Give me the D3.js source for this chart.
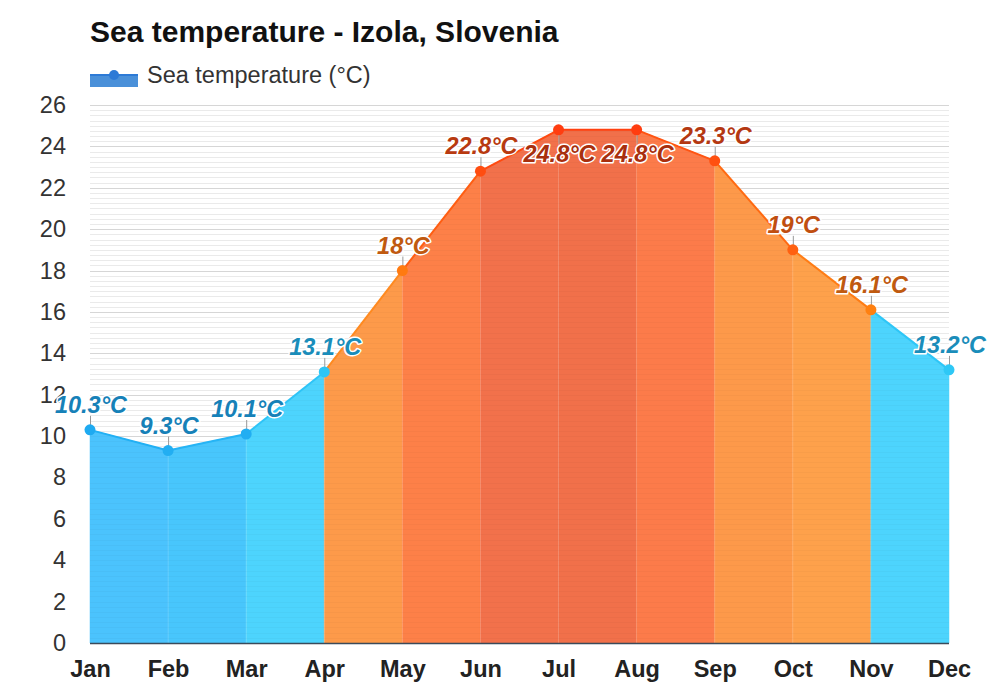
<!DOCTYPE html>
<html>
<head>
<meta charset="utf-8">
<script src="https://cdn.jsdelivr.net/npm/d3@7"></script>
<style>
  body { margin: 0; background: #fff; }
  svg { display: block; font-family: Arial, "Liberation Sans", sans-serif; }
</style>
</head>
<body>
<div id="chart"></div>
<script>
// month labels and sea temperatures
const months = ["Jan", "Feb", "Mar", "Apr", "May", "Jun", "Jul", "Aug", "Sep", "Oct", "Nov", "Dec"];
const seaTemp = [10.3, 9.3, 10.1, 13.1, 18, 22.8, 24.8, 24.8, 23.3, 19, 16.1, 13.2];
const yTicks = [0, 2, 4, 6, 8, 10, 12, 14, 16, 18, 20, 22, 24, 26];

// colours per segment (month i -> i+1), per point and per label
const fillColors = ["#4bc3fd", "#48c6fc", "#4dd4fd", "#fd9a4a", "#fd8048", "#f2714b", "#f1704a", "#fc7b4a", "#fd994a", "#fea14b", "#4dd4fd"];
const lineColors = ["#22b0f4", "#26b4f5", "#2ec4f7", "#ff8a20", "#ff5e12", "#ff4a10", "#ff4010", "#ff5412", "#ff6a12", "#ff7c14", "#2ec6f7"];
const pointColors = ["#1eaaf1", "#22aef2", "#22aef2", "#2ec5f5", "#ff7a10", "#ff4d10", "#ff3d10", "#ff3d10", "#ff5010", "#ff6010", "#ff8010", "#2ec8f6"];
const labelColors = ["#1681b8", "#1681b8", "#1681b8", "#1a8dba", "#c05a10", "#b83a10", "#a82f0e", "#a82f0e", "#b43812", "#c04e10", "#c05a10", "#1a8dba"];
const labelBelow = [false, false, false, false, false, false, true, true, false, false, false, false];

const width = 1000;
const height = 700;
const margin = { top: 105, right: 51, bottom: 57, left: 90 };
const innerWidth = width - margin.left - margin.right;
const innerHeight = height - margin.top - margin.bottom;

const svg = d3.select("#chart")
  .append("svg")
  .attr("width", width)
  .attr("height", height);

// title
svg.append("text")
  .attr("x", 90)
  .attr("y", 42)
  .style("font-size", "30px")
  .style("font-weight", "700")
  .style("fill", "#111")
  .text("Sea temperature - Izola, Slovenia");

// legend
const legend = svg.append("g").attr("transform", "translate(90,62)");
legend.append("rect").attr("x", 0).attr("y", 13).attr("width", 48).attr("height", 12).style("fill", "#4a90d9");
legend.append("line").attr("x1", 0).attr("x2", 48).attr("y1", 13).attr("y2", 13).style("stroke", "#2d7ad6").style("stroke-width", 2);
legend.append("circle").attr("cx", 24).attr("cy", 13).attr("r", 5).style("fill", "#2d7ad6");
legend.append("text")
  .attr("x", 57)
  .attr("y", 21)
  .style("font-size", "23.5px")
  .style("fill", "#333")
  .text("Sea temperature (°C)");

const g = svg.append("g").attr("transform", `translate(${margin.left},${margin.top})`);

const xScale = d3.scalePoint().domain(months).range([0, innerWidth]);
const yScale = d3.scaleLinear().domain([0, 26]).range([innerHeight, 0]);

// minor grid every 0.25
const minorTicks = d3.range(0, 26.01, 0.25).filter(v => v % 2 !== 0);
g.append("g")
  .selectAll("line")
  .data(minorTicks)
  .join("line")
  .attr("x1", 0)
  .attr("x2", innerWidth)
  .attr("y1", d => Math.round(yScale(d)) + 0.5)
  .attr("y2", d => Math.round(yScale(d)) + 0.5)
  .style("stroke", "#f0f0f0");

// major grid
g.append("g")
  .selectAll("line")
  .data(yTicks.slice(1))
  .join("line")
  .attr("x1", 0)
  .attr("x2", innerWidth)
  .attr("y1", d => Math.round(yScale(d)) + 0.5)
  .attr("y2", d => Math.round(yScale(d)) + 0.5)
  .style("stroke", "#dcdcdc");

// filled segments between consecutive months
const segments = d3.range(months.length - 1).map(i => ({
  i,
  a: { m: months[i], v: seaTemp[i] },
  b: { m: months[i + 1], v: seaTemp[i + 1] },
}));

const area = d3.area()
  .x(d => xScale(d.m))
  .y0(yScale(0))
  .y1(d => yScale(d.v));

g.append("g")
  .selectAll("path")
  .data(segments)
  .join("path")
  .attr("d", d => area([d.a, d.b]))
  .style("fill", d => fillColors[d.i])
  .style("stroke", d => fillColors[d.i])
  .style("stroke-width", 0.5);

// faint grid showing through the fill
g.append("g")
  .selectAll("line")
  .data(minorTicks.concat(yTicks.slice(1)))
  .join("line")
  .attr("x1", 0)
  .attr("x2", innerWidth)
  .attr("y1", d => Math.round(yScale(d)) + 0.5)
  .attr("y2", d => Math.round(yScale(d)) + 0.5)
  .style("stroke", "#000")
  .style("stroke-opacity", 0.025);

// month separators inside the fill
g.append("g")
  .selectAll("line")
  .data(months.slice(1, -1).map((m, k) => ({ m, v: seaTemp[k + 1] })))
  .join("line")
  .attr("x1", d => xScale(d.m))
  .attr("x2", d => xScale(d.m))
  .attr("y1", d => yScale(d.v))
  .attr("y2", yScale(0))
  .style("stroke", "#fff")
  .style("stroke-opacity", 0.15);

// line segments
const line = d3.line().x(d => xScale(d.m)).y(d => yScale(d.v));
g.append("g")
  .selectAll("path")
  .data(segments)
  .join("path")
  .attr("d", d => line([d.a, d.b]))
  .style("fill", "none")
  .style("stroke", d => lineColors[d.i])
  .style("stroke-width", 2);

// x axis line
g.append("line")
  .attr("x1", 0)
  .attr("x2", innerWidth)
  .attr("y1", innerHeight + 0.5)
  .attr("y2", innerHeight + 0.5)
  .style("stroke", "#3a4a5a")
  .style("stroke-width", 1.5);

// y axis labels
const yAxis = d3.axisLeft(yScale).tickValues(yTicks).tickSize(0).tickPadding(24);
const yAxisGroup = g.append("g").call(yAxis);
yAxisGroup.select(".domain").remove();
yAxisGroup.selectAll("text")
  .style("font-size", "23.5px")
  .style("font-family", "Arial, 'Liberation Sans', sans-serif")
  .style("fill", "#333");

// x axis labels
const xAxis = d3.axisBottom(xScale).tickSize(0).tickPadding(17);
const xAxisGroup = g.append("g").attr("transform", `translate(0,${innerHeight})`).call(xAxis);
xAxisGroup.select(".domain").remove();
xAxisGroup.selectAll("text")
  .style("font-size", "23.5px")
  .style("font-weight", "700")
  .style("font-family", "Arial, 'Liberation Sans', sans-serif")
  .style("fill", "#222");

const pts = months.map((m, i) => ({ m, v: seaTemp[i], i }));

// label connectors
g.append("g")
  .selectAll("line")
  .data(pts)
  .join("line")
  .attr("x1", d => xScale(d.m) + 0.5)
  .attr("x2", d => xScale(d.m) + 0.5)
  .attr("y1", d => yScale(d.v) + (labelBelow[d.i] ? 4 : -4))
  .attr("y2", d => yScale(d.v) + (labelBelow[d.i] ? 14 : -14))
  .style("stroke", "#999")
  .style("stroke-width", 1);

// points
g.append("g")
  .selectAll("circle")
  .data(pts)
  .join("circle")
  .attr("cx", d => xScale(d.m))
  .attr("cy", d => yScale(d.v))
  .attr("r", 5.5)
  .style("fill", d => pointColors[d.i]);

// value labels
g.append("g")
  .selectAll("text")
  .data(pts)
  .join("text")
  .attr("x", d => xScale(d.m) + 1)
  .attr("y", d => yScale(d.v) + (labelBelow[d.i] ? 32 : -17))
  .attr("text-anchor", "middle")
  .style("font-size", "23.5px")
  .style("font-weight", "700")
  .style("font-style", "italic")
  .style("fill", d => labelColors[d.i])
  .style("stroke", "#fff")
  .style("stroke-width", 3)
  .style("stroke-linejoin", "round")
  .style("paint-order", "stroke")
  .text(d => `${d.v}°C`);
</script>
</body>
</html>
